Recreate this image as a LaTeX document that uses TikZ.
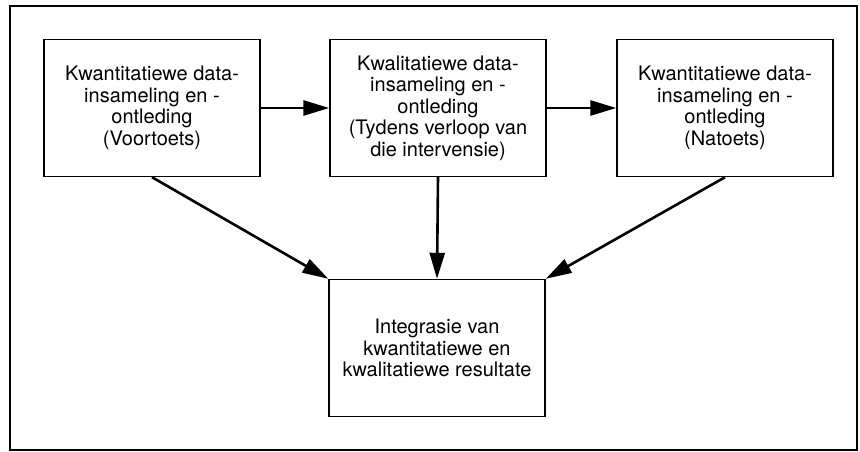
\documentclass[tikz,border=0pt]{standalone}
\usepackage{fontspec}
\setmainfont{TeX Gyre Heros}
\usetikzlibrary{arrows.meta}
\newcommand{\stagelabel}[4]{#1 \\ #2 \\ #3 \\ #4}

\begin{document}
\begin{tikzpicture}[x = 1pt, y = -1pt, every node/.style = {rectangle, draw = black, line width = 1.4pt, minimum width = 216pt, minimum height = 137pt, inner sep = 0pt, align = center, font = \fontsize{20}{21.5}\selectfont}, flow/.style = {line width = 2.6pt, -{Triangle[length = 26pt, width = 15pt]}}]

	\useasboundingbox (0, 0) rectangle (860, 452);
	\draw [line width = 2.8pt] (10, 6) rectangle (857, 450);

	\node (VT) at (152, 108) {\stagelabel{Kwantitatiewe data-}{insameling en -}{ontleding}{(Voortoets)}};
	\node (KD) at (438, 108) {\stagelabel{Kwalitatiewe data-}{insameling en -}{ontleding}{(Tydens verloop van} \\ die intervensie)};
	\node (NT) at (725, 108) {\stagelabel{Kwantitatiewe data-}{insameling en -}{ontleding}{(Natoets)}};
	\node (IN) at (437, 348) {Integrasie van \\ kwantitatiewe en \\ kwalitatiewe resultate};

    \foreach \from/\to in {VT/KD, KD/NT}
    	\path (\from) edge [flow] (\to);
    \foreach \from/\to in {VT.south/IN.north west, KD.south/IN.north, NT.south/IN.north east}
    	\path (\from) edge [flow] (\to);

\end{tikzpicture}
\end{document}
